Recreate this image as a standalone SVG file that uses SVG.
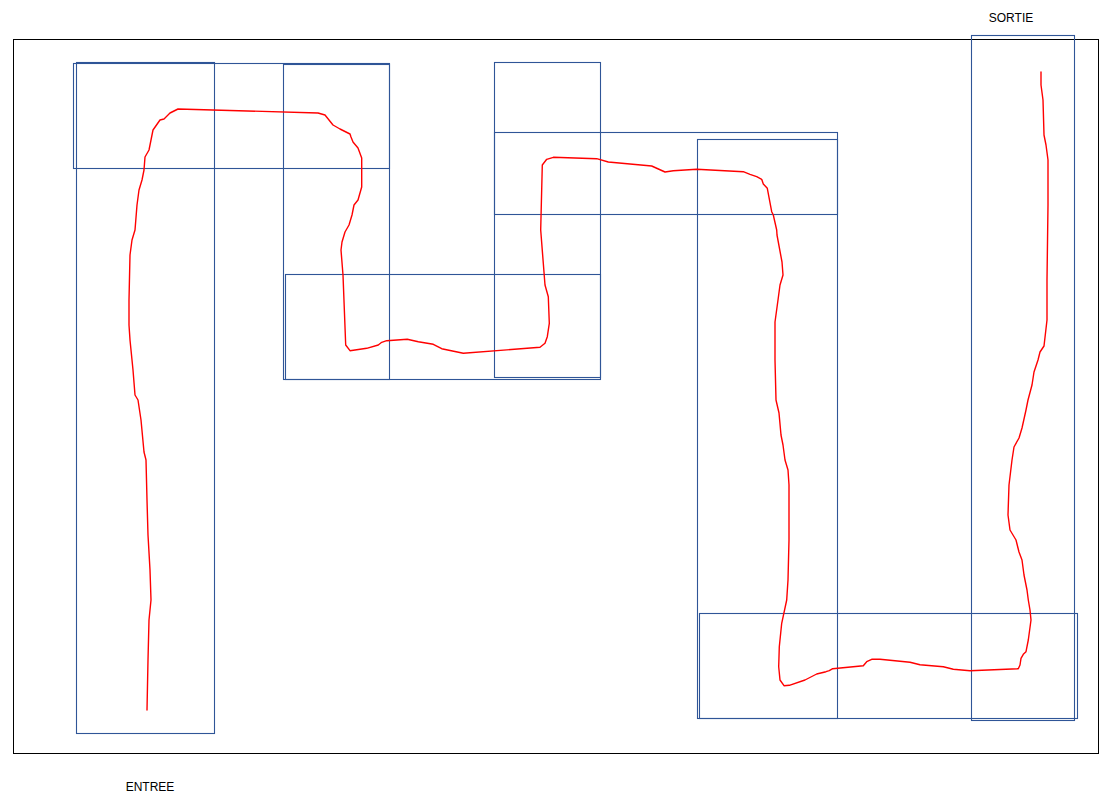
<svg xmlns="http://www.w3.org/2000/svg" width="1120" height="810" viewBox="0 0 1120 810">
<style>
.zone{fill:none;stroke:#2F5597;stroke-width:1.1}
.lbl{font-family:"Liberation Sans",Arial,sans-serif;font-size:12px;fill:#000}
.path{fill:none;stroke:#FF0000;stroke-width:1.4;stroke-linejoin:round;stroke-linecap:round}
</style>
<rect width="1120" height="810" fill="#fff"/>
<rect id="frame" x="13.5" y="39.5" width="1085" height="714" fill="none" stroke="#000" stroke-width="1"/>
<g id="zones">
<rect class="zone" x="76.5" y="62.5" width="138" height="671"/>
<rect class="zone" x="73.5" y="63.5" width="316" height="105"/>
<rect class="zone" x="283.5" y="64.5" width="106" height="315"/>
<rect class="zone" x="285.5" y="274.5" width="315" height="105"/>
<rect class="zone" x="494.5" y="62.5" width="106" height="315"/>
<rect class="zone" x="494.5" y="132.5" width="343" height="82"/>
<rect class="zone" x="697.5" y="139.5" width="140" height="579"/>
<rect class="zone" x="699.5" y="613.5" width="378" height="105"/>
<rect class="zone" x="971.5" y="35.5" width="103" height="685"/>
</g>
<g id="route">
<path class="path" d="M147,710 L148,660 L149,620 L151,600 L150,570 L148,535 L147,500 L146,460 L144,452 L141,420 L138,400 L135,395 L133,370 L130,340 L129,325 L129,300 L130,255 L132,240 L135,230 L137,205 L139,190 L142,180 L144,170 L145,157 L149,150 L151,140 L153,130 L160,120 L164,119 L170,113 L178,109 L318,113 L325,115 L333,125 L340,129 L350,134 L351,137 L353,142 L358,148 L361.7,158 L361.7,187 L358,200 L354,205 L352,215 L349,225 L345,232 L342,242 L341,250 L343,275 L345.7,345 L350,350.7 L366.7,348.3 L378.3,345 L381.7,342.3 L386.7,340.7 L407.3,339.3 L418.3,341.7 L433.3,344.3 L441.7,348.7 L463.3,353.3 L540,347.3 L545,343.3 L547.3,336.7 L549.3,323.3 L548.3,296.7 L545,285 L543.3,263.3 L540.7,230 L542.3,165 L546.7,159.3 L553.3,157.3 L596.7,158.7 L608.3,162 L651.7,166 L665,172 L673.3,170.7 L696.7,169.3 L743.3,171.7 L750,174.3 L756.7,176.7 L761.7,179.3 L763.3,184 L767.3,188.3 L771.7,211.7 L773.3,215 L776.7,230 L777,235 L782,262 L783,275 L780,285 L778,300 L775,322 L775,360 L776,400 L779,413 L781,435 L783,445 L785,460 L788,470 L789,485 L789,540 L788,580 L786.7,600 L781.7,623.3 L779.3,646.7 L778.7,666.7 L780,680 L784,685.7 L789.3,685.3 L805,680 L816.7,674 L826,671.7 L829.3,670.7 L832.7,668.7 L863.3,665.7 L866.7,661.7 L871.7,659.3 L880,659.3 L910,662.3 L920,664.7 L943.3,666.7 L953.3,669.3 L970,670.7 L1018.3,668.7 L1020,665 L1021,658.3 L1023.3,654.3 L1026,651.7 L1028.3,640 L1031,620 L1030,610 L1028.3,600 L1027,590 L1024,575 L1022,560 L1019,552 L1016,540 L1010,530 L1008,515 L1009,485 L1012,460 L1014,447 L1019,438 L1022,428 L1026,410 L1028,400 L1032,385 L1034,372 L1038,360 L1040,352 L1044,346 L1047,320 L1047,280 L1048,205 L1048,160 L1046,145 L1044,135 L1043,100 L1041,85 L1041,72"/>
</g>
<g id="labels">
<text class="lbl" x="1011" y="21.5" text-anchor="middle">SORTIE</text>
<text class="lbl" x="150" y="790.5" text-anchor="middle">ENTREE</text>
</g>
</svg>
